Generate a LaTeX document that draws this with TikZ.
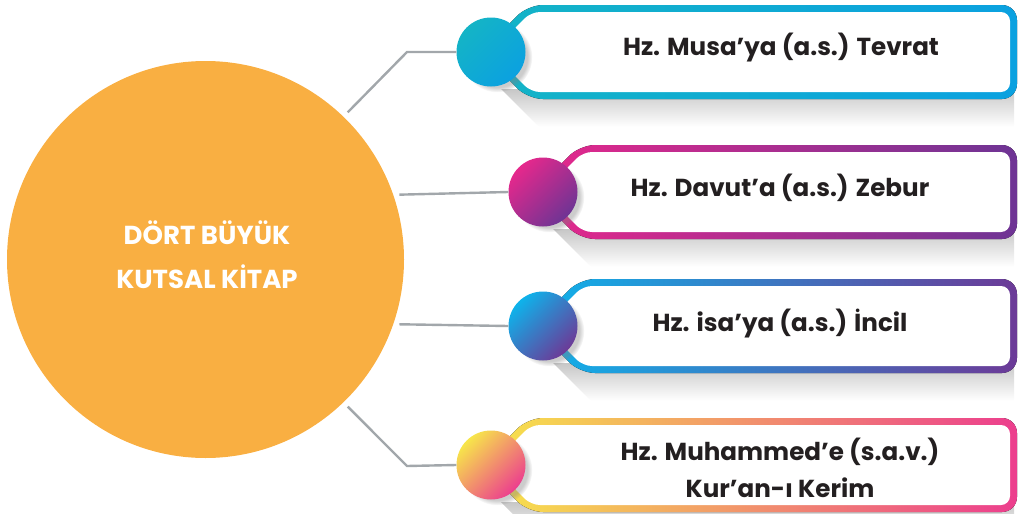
\documentclass[tikz,border=0pt]{standalone}
\usepackage{fontspec}
\setmainfont{Poppins}
\usetikzlibrary{shadows,calc}
\definecolor{turuncu}{HTML}{F9AF42}
\definecolor{cizgi}{HTML}{A2A7AB}
\definecolor{yazi}{HTML}{231F20}
\definecolor{tealA}{HTML}{14B4C6}
\definecolor{tealB}{HTML}{0BA1E0}
\definecolor{pembeA}{HTML}{E6288C}
\definecolor{morB}{HTML}{6E3494}
\definecolor{maviA}{HTML}{0EB3EB}
\definecolor{morC}{HTML}{6C3A97}
\definecolor{sariA}{HTML}{F7E64A}
\definecolor{pembeB}{HTML}{EC3E8E}
\newcommand\kutu[4]{%
  \pgfmathsetmacro\kT{#1}\pgfmathsetmacro\kB{#1+94}\pgfmathsetmacro\kC{#1+47}%
  \shade[top color=black!22, bottom color=white]
    ({#2+10},{\kB-10}) -- (1014,{\kB-10}) -- (1014,{\kB+28}) -- ({#2+48},{\kB+28}) -- cycle;
  \fill[left color=#3, right color=#4, rounded corners=15pt]
    ({#2+37},\kT) -- (1017,\kT) -- (1017,\kB) -- ({#2+37},\kB) -- ({#2-10},\kC) -- cycle;
  \fill[white, rounded corners=9pt]
    ({#2+40},{\kT+7}) -- (1010,{\kT+7}) -- (1010,{\kB-7}) -- ({#2+40},{\kB-7}) -- ({#2},\kC) -- cycle;
}
\begin{document}
\begin{tikzpicture}[x=1pt,y=-1pt,
  conn/.style={draw=cizgi, line width=2.4pt},
  dot/.style={circle, minimum size=69pt, inner sep=0pt,
    circular drop shadow={shadow xshift=6pt, shadow yshift=-5pt, shadow scale=1.02, opacity=.4}},
  lbl/.style={font=\fontsize{24.6}{37}\selectfont\bfseries, text=yazi, align=center, anchor=base},
  anadaire/.style={circle, fill=turuncu, minimum size=397pt, inner sep=0pt},
  anayazi/.style={text=white, font=\fontsize{26}{44}\selectfont\bfseries, align=center}]
\useasboundingbox (0,0) rectangle (1021,514);
% boxes
\kutu{5}{491}{tealA}{tealB}
\kutu{145}{543}{pembeA}{morB}
\kutu{279}{543}{maviA}{morC}
\kutu{418}{491}{sariA}{pembeB}
% main circle
\node[anadaire] (main) at (205.5,259.5) {};
\node[anayazi] (mtext) at (207,255) {DÖRT BÜYÜK\\KUTSAL KİTAP};
% small circles
\node[dot, top color=tealA, bottom color=tealB, shading angle=45] (c1) at (491,52) {};
\node[dot, top color=pembeA, bottom color=morB, shading angle=45] (c2) at (543,192) {};
\node[dot, top color=maviA, bottom color=morC, shading angle=45] (c3) at (543,326) {};
\node[dot, top color=sariA, bottom color=pembeB, shading angle=45] (c4) at (491,465) {};
% connectors
\coordinate (b1) at (407,52);
\coordinate (b4) at (407,466);
\draw[conn, shorten <=6pt] (main.46) -- (b1) -- (c1.west);
\draw[conn, shorten <=6pt] (main.19.88) -- (c2.west);
\draw[conn, shorten <=6pt] (main.-19.57) -- (c3.west);
\draw[conn, shorten <=6pt] (main.-46.3) -- (b4) -- (c4.west);
% labels
\node[lbl] (t1) at (781,56) {Hz. Musa’ya (a.s.) Tevrat};
\node[lbl] (t2) at (780,196) {Hz. Davut’a (a.s.) Zebur};
\node[lbl] (t3) at (780,331) {Hz. isa’ya (a.s.) İncil};
\node[lbl, anchor=center] (t4) at (780,468) {Hz. Muhammed’e (s.a.v.)\\Kur’an-ı Kerim};
\end{tikzpicture}
\end{document}
